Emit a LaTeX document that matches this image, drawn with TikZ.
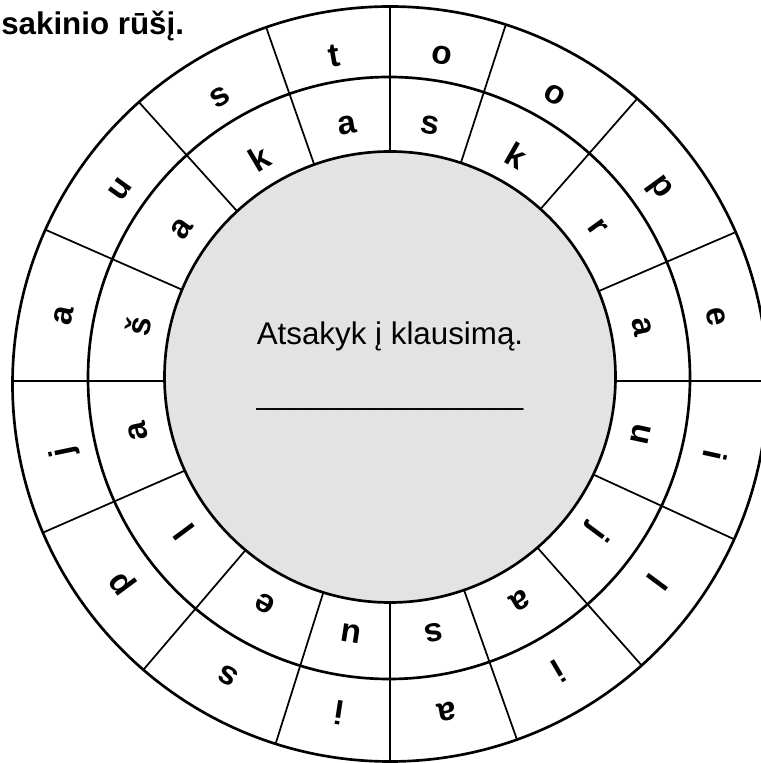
\documentclass[tikz,border=0pt]{standalone}
\usepackage{fontspec}
\setmainfont{Liberation Sans}
\begin{document}
\begin{tikzpicture}[x=0.75pt,y=0.75pt,
  ring/.style={line width=2pt},
  spoke/.style={line width=1.3pt},
  letter/.style={font=\fontsize{25}{30}\selectfont\bfseries, inner sep=0pt}]
\useasboundingbox (-390,-382) rectangle (370,381);
\foreach \a/\b/\outer/\inner [count=\i] in {0/23.3/e/a, 23.3/48.8/p/r, 48.8/72/o/k, 72/90/o/s, 90/109.3/t/a, 109.3/132/s/k, 132/156.3/u/a, 156.3/180/a/š, 180/203.6/j/a, 203.6/229.5/p/l, 229.5/252.5/s/e, 252.5/270/i/u, 270/289.5/a/s, 289.5/311.5/i/a, 311.5/335.3/l/j, 335.3/360/i/u}
{
  \pgfmathsetmacro\m{(\a+\b)/2}
  \draw[spoke] (\a:215) -- (\a:{377.5-3*sin(\a)});
  \node[letter, rotate=\m-90] (out\i) at ([shift={(0,-3)}]\m:333) {\outer};
  \node[letter, rotate=\m-90] (in\i) at ([shift={(0,2)}]\m:257) {\inner};
}
\draw[ring, fill=gray!22] (0,4) circle (225.5);
\draw[ring] (-1,3) circle (301);
\draw[ring] (0,-3) circle (377.5);
\node[anchor=base west, inner sep=0pt, font=\fontsize{23.5}{28}\selectfont\bfseries] (title) at (-389,346) {sakinio rūšį.};
\node[anchor=base, inner sep=0pt, font=\fontsize{23.5}{28}\selectfont] (question) at (0,36) {Atsakyk į klausimą.};
\node[anchor=base, inner sep=0pt, font=\fontsize{22.5}{27}\selectfont] (answer) at (0,-24) {\_\_\_\_\_\_\_\_\_\_\_\_\_\_\_\_};
\end{tikzpicture}
\end{document}
